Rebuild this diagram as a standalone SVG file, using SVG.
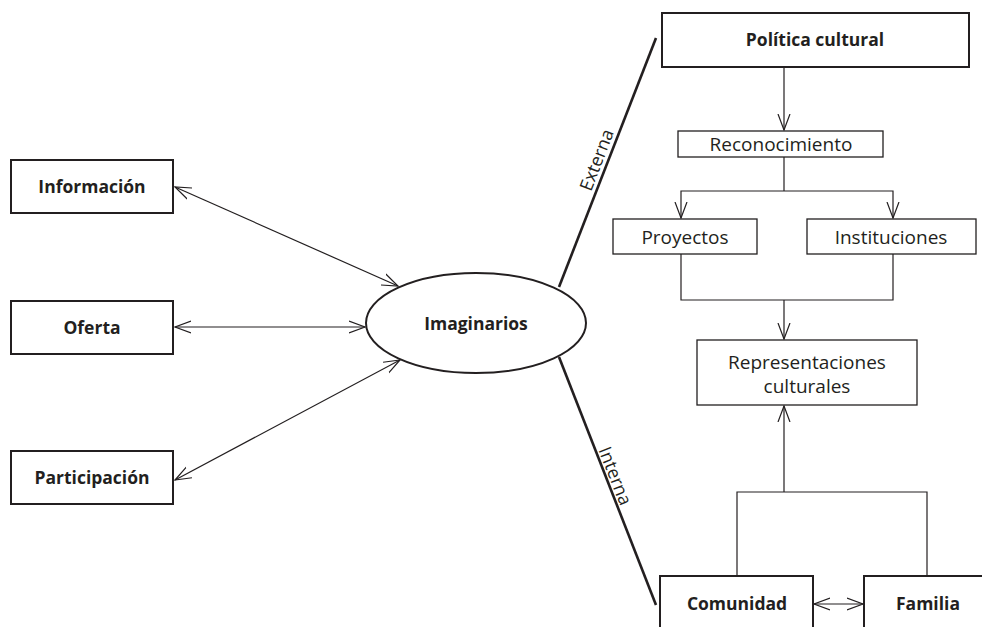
<svg xmlns="http://www.w3.org/2000/svg" width="982" height="627" viewBox="0 0 982 627">
<style>
  .box { fill: #fff; stroke: #231f20; }
  .bold { stroke-width: 2; }
  .thin { stroke-width: 1.3; }
  .t { font-family: "Open Sans", "Noto Sans", sans-serif; font-size: 19px; fill: #231f20; text-anchor: middle; }
  .b { font-weight: bold; font-size: 17.5px; }
  .lab { font-size: 18px; }
  .c { fill: none; stroke: #231f20; stroke-width: 1.2; }
  .thick { fill: none; stroke: #231f20; stroke-width: 2.6; }
</style>
<defs>
  <marker id="arr" markerUnits="userSpaceOnUse" markerWidth="20" markerHeight="16" viewBox="0 0 20 16" refX="16" refY="8" orient="auto-start-reverse">
    <path d="M0,2 L16,8 L0,14" fill="none" stroke="#231f20" stroke-width="1.2"/>
  </marker>
</defs>
<rect width="982" height="627" fill="#fff"/>

<g id="connectors">
  <line class="c" x1="175" y1="187" x2="398" y2="286" marker-start="url(#arr)" marker-end="url(#arr)"/>
  <line class="c" x1="175" y1="327" x2="365" y2="327" marker-start="url(#arr)" marker-end="url(#arr)"/>
  <line class="c" x1="175" y1="480" x2="400" y2="360" marker-start="url(#arr)" marker-end="url(#arr)"/>
  <line class="thick" x1="559" y1="287" x2="656" y2="38"/>
  <line class="thick" x1="559" y1="357" x2="656" y2="605"/>
  <line class="c" x1="784" y1="67" x2="784" y2="130" marker-end="url(#arr)"/>
  <line class="c" x1="784" y1="157" x2="784" y2="191"/>
  <polyline class="c" points="681,218 681,191 893,191 893,218" marker-start="url(#arr)" marker-end="url(#arr)"/>
  <polyline class="c" points="681,254 681,300 893,300 893,254"/>
  <line class="c" x1="784" y1="300" x2="784" y2="339" marker-end="url(#arr)"/>
  <line class="c" x1="784" y1="492" x2="784" y2="406" marker-end="url(#arr)"/>
  <polyline class="c" points="737,576 737,492 927,492 927,576"/>
  <line class="c" x1="814" y1="604" x2="863" y2="604" marker-start="url(#arr)" marker-end="url(#arr)"/>
  <text class="t lab" transform="translate(597,160) rotate(-68.8)" dy="6">Externa</text>
  <text class="t lab" transform="translate(615,476) rotate(68.6)" dy="6">Interna</text>
</g>

<g id="informacion">
  <rect class="box bold" x="11" y="160" width="162" height="53"/>
  <text class="t b" x="92" y="193">Información</text>
</g>
<g id="oferta">
  <rect class="box bold" x="11" y="301" width="162" height="53"/>
  <text class="t b" x="92" y="334">Oferta</text>
</g>
<g id="participacion">
  <rect class="box bold" x="11" y="451" width="162" height="53"/>
  <text class="t b" x="92" y="484">Participación</text>
</g>
<g id="imaginarios">
  <ellipse class="box bold" cx="476" cy="323" rx="110" ry="50"/>
  <text class="t b" x="476" y="330">Imaginarios</text>
</g>
<g id="politica">
  <rect class="box bold" x="662" y="13" width="307" height="54"/>
  <text class="t b" x="815" y="46">Política cultural</text>
</g>
<g id="reconocimiento">
  <rect class="box thin" x="678" y="131" width="205" height="26"/>
  <text class="t" x="781" y="151">Reconocimiento</text>
</g>
<g id="proyectos">
  <rect class="box thin" x="613" y="219" width="144" height="35"/>
  <text class="t" x="685" y="244">Proyectos</text>
</g>
<g id="instituciones">
  <rect class="box thin" x="807" y="219" width="169" height="35"/>
  <text class="t" x="891" y="244">Instituciones</text>
</g>
<g id="representaciones">
  <rect class="box thin" x="697" y="340" width="220" height="65"/>
  <text class="t" x="807" y="369">Representaciones</text>
  <text class="t" x="807" y="393">culturales</text>
</g>
<g id="comunidad">
  <rect class="box bold" x="660" y="576" width="153" height="60"/>
  <text class="t b" x="737" y="610">Comunidad</text>
</g>
<g id="familia">
  <rect class="box bold" x="864" y="576" width="130" height="60"/>
  <text class="t b" x="928" y="610">Familia</text>
</g>
</svg>
